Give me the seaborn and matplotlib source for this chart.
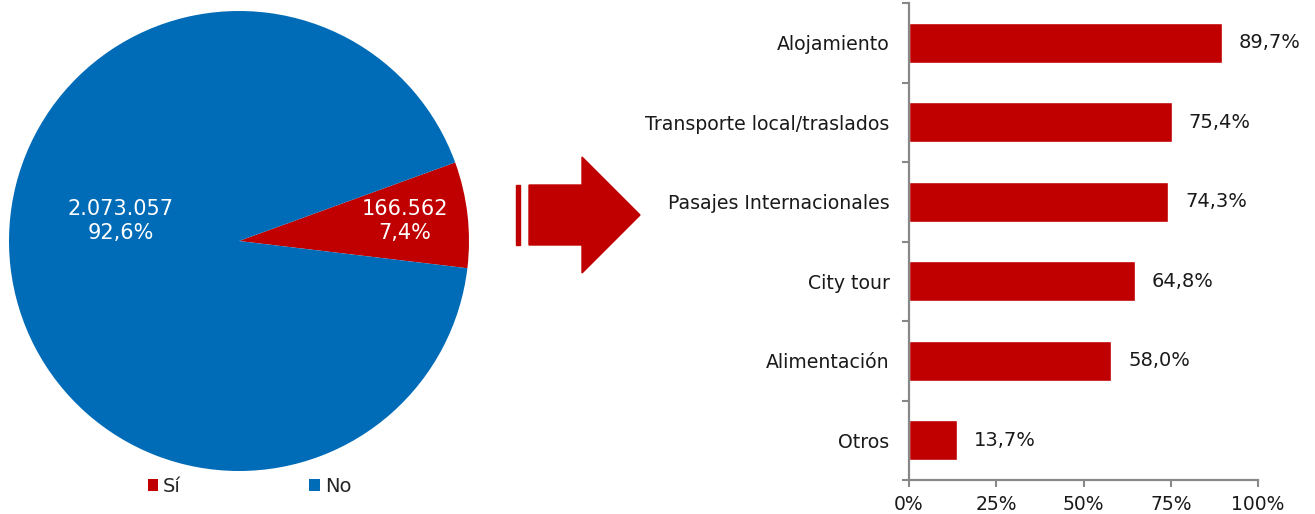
import numpy as np
import pandas as pd
import matplotlib
matplotlib.use("Agg")
import matplotlib.pyplot as plt
import seaborn as sns
from matplotlib.patches import Polygon, Rectangle

# pie data
pie_labels = ["Sí", "No"]
pie_counts = [166562, 2073057]
pie_pcts = [7.4, 92.6]

# bar data
services = ["Alojamiento", "Transporte local/traslados", "Pasajes Internacionales",
            "City tour", "Alimentación", "Otros"]
shares = [89.7, 75.4, 74.3, 64.8, 58.0, 13.7]

red = "#C00000"
blue = "#006BB6"
txt = "#1a1a1a"

sns.set_style("white")
plt.rcParams["font.family"] = "DejaVu Sans"
plt.rcParams["font.sans-serif"] = ["DejaVu Sans"]

fig = plt.figure(figsize=(13.15, 5.14), dpi=100)

# --- pie ---
ax_pie = fig.add_axes([9 / 1315, 1 - 471 / 514, 460 / 1315, 460 / 514])
wedges, _ = ax_pie.pie(pie_counts, colors=[red, blue], startangle=-6.8,
                       counterclock=True, radius=1,
                       wedgeprops=dict(linewidth=0))
ax_pie.set_xlim(-1, 1)
ax_pie.set_ylim(-1, 1)
ax_pie.set_aspect("equal")

def fmt_int(v):
    return f"{v:,}".replace(",", ".")

def fmt_pct(v):
    return f"{v:.1f}%".replace(".", ",")

label_pos = [(0.72, 0.085), (-0.515, 0.085)]
for (x, y), c, p in zip(label_pos, pie_counts, pie_pcts):
    ax_pie.text(x, y, fmt_int(c) + "\n" + fmt_pct(p), color="white",
                ha="center", va="center", fontsize=15, linespacing=1.25)

ax_pie.legend(wedges, pie_labels, loc="upper center", bbox_to_anchor=(0.523, 0.025),
              ncol=2, frameon=False, fontsize=14, handlelength=0.55, handleheight=0.55,
              handletextpad=0.25, columnspacing=6.6)

# --- arrow (decoration) ---
fig.patches.append(Rectangle((516 / 1315, 1 - 245 / 514), 4 / 1315, 60 / 514,
                             transform=fig.transFigure, color=red, zorder=1))
arrow_px = [(529, 185), (582, 185), (582, 157), (640, 215), (582, 273), (582, 245), (529, 245)]
fig.patches.append(Polygon([(x / 1315, 1 - y / 514) for x, y in arrow_px], closed=True,
                           transform=fig.transFigure, color=red, zorder=1))

# --- bars ---
ax = fig.add_axes([909 / 1315, 1 - 480 / 514, 349 / 1315, 477 / 514])
df = pd.DataFrame({"service": services, "share": shares})
sns.barplot(data=df, x="share", y="service", color=red, width=0.5,
            saturation=1, ax=ax, orient="h")
for cont in ax.containers:
    ax.bar_label(cont, labels=[fmt_pct(v) for v in shares], padding=12, fontsize=14,
                 color=txt)
ax.set_xlim(0, 100)
ax.set_ylim(len(services) - 0.5, -0.5)
ax.set_xlabel("")
ax.set_ylabel("")
ax.set_xticks([0, 25, 50, 75, 100])
ax.set_xticklabels(["0%", "25%", "50%", "75%", "100%"], fontsize=13.5, color=txt)
ax.set_yticks(range(len(services)))
ax.set_yticklabels(services, fontsize=13.6, color=txt)
ax.set_yticks(np.arange(-0.5, len(services)), minor=True)
ax.tick_params(axis="y", which="major", length=0, pad=14)
ax.tick_params(axis="y", which="minor", length=5, width=1.5, color="#888888", left=True)
ax.tick_params(axis="x", length=5, width=1.5, color="#888888", bottom=True, pad=6)
for side in ["top", "right"]:
    ax.spines[side].set_visible(False)
for side in ["left", "bottom"]:
    ax.spines[side].set_color("#888888")
    ax.spines[side].set_linewidth(1.6)

fig.savefig("out.png", dpi=100)
